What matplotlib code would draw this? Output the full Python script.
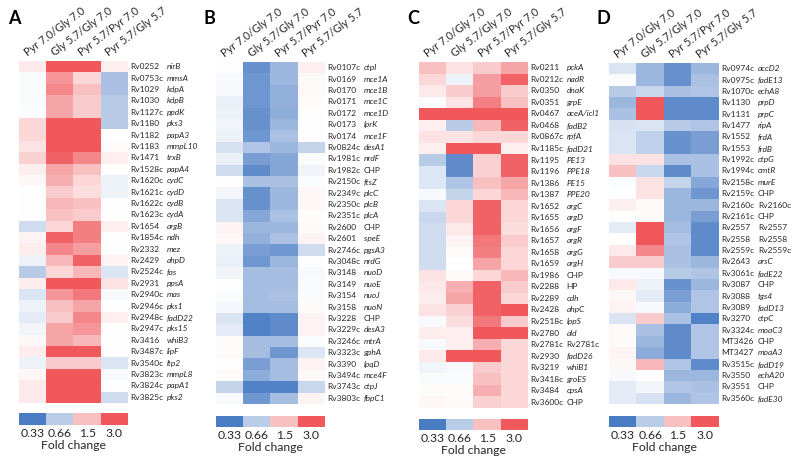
import numpy as np
import matplotlib
matplotlib.use("Agg")
import matplotlib.pyplot as plt
from matplotlib.colors import LinearSegmentedColormap, LogNorm

plt.rcParams['font.family'] = ['Lato', 'DejaVu Sans']

# column headers and legend
conditions = ["Pyr 7.0/Gly 7.0", "Gly 5.7/Gly 7.0", "Pyr 5.7/Pyr 7.0", "Pyr 5.7/Gly 5.7"]
legend_ticks = [0.33, 0.66, 1.5, 3.0]

# panel A
a_ids = ["Rv0252", "Rv0753c", "Rv1029", "Rv1030", "Rv1127c", "Rv1180", "Rv1182", "Rv1183",
         "Rv1471", "Rv1528c", "Rv1620c", "Rv1621c", "Rv1622c", "Rv1623c", "Rv1654", "Rv1854c",
         "Rv2332", "Rv2429", "Rv2524c", "Rv2931", "Rv2940c", "Rv2946c", "Rv2948c", "Rv2947c",
         "Rv3416", "Rv3487c", "Rv3540c", "Rv3823c", "Rv3824c", "Rv3825c"]
a_genes = ["nirB", "mmsA", "kdpA", "kdpB", "ppdK", "pks3", "papA3", "mmpL10", "trxB", "papA4",
           "cydC", "cydD", "cydB", "cydA", "argB", "ndh", "mez", "ahpD", "fas", "ppsA", "mas",
           "pks1", "fadD22", "pks15", "whiB3", "lipF", "ltp2", "mmpL8", "papA1", "pks2"]
a_fold = [[1.15, 3.0, 3.0, 1.1], [0.97, 2.0, 1.3, 0.6], [0.97, 2.2, 1.5, 0.6],
          [0.97, 1.8, 1.4, 0.65], [0.98, 1.8, 1.4, 0.65], [1.3, 3.2, 3.2, 0.65],
          [1.3, 3.2, 3.2, 1.0], [1.2, 3.2, 3.2, 1.02], [1.35, 2.8, 2.2, 1.1],
          [1.1, 1.8, 1.5, 1.0], [1.05, 1.7, 1.3, 0.9], [1.0, 1.4, 1.25, 0.9],
          [1.0, 1.6, 1.5, 1.0], [1.0, 1.5, 1.4, 1.0], [0.75, 1.3, 2.3, 1.1],
          [1.08, 2.8, 2.3, 1.0], [1.12, 2.2, 1.9, 1.0], [0.9, 1.6, 2.8, 1.08],
          [0.65, 1.3, 1.6, 0.8], [1.12, 3.0, 3.0, 1.2], [0.8, 2.0, 2.4, 0.95],
          [0.9, 1.5, 1.8, 1.0], [0.85, 1.4, 2.2, 1.1], [0.92, 1.8, 2.0, 1.0],
          [1.05, 1.8, 1.6, 1.0], [1.12, 3.0, 3.0, 1.0], [0.9, 1.4, 1.4, 0.8],
          [1.05, 3.2, 3.2, 0.95], [1.15, 3.2, 3.2, 1.0], [1.15, 3.2, 3.2, 0.75]]

# panel B
b_ids = ["Rv0107c", "Rv0169", "Rv0170", "Rv0171", "Rv0172", "Rv0173", "Rv0174", "Rv0824c",
         "Rv1981c", "Rv1982c", "Rv2150c", "Rv2349c", "Rv2350c", "Rv2351c", "Rv2600", "Rv2601",
         "Rv2746c", "Rv3048c", "Rv3148", "Rv3149", "Rv3154", "Rv3158", "Rv3228", "Rv3229c",
         "Rv3246c", "Rv3323c", "Rv3390", "Rv3494c", "Rv3743c", "Rv3803c"]
b_genes = ["ctpI", "mce1A", "mce1B", "mce1C", "mce1D", "lprK", "mce1F", "desA1", "nrdF", "CHP",
           "ftsZ", "plcC", "plcB", "plcA", "CHP", "speE", "pgsA3", "nrdG", "nuoD", "nuoE",
           "nuoJ", "nuoN", "CHP", "desA3", "mtrA", "gphA", "lpqD", "mce4F", "ctpJ", "fbpC1"]
b_fold = [[1.0, 0.4, 0.55, 1.1], [0.95, 0.42, 0.55, 1.04], [0.95, 0.42, 0.52, 1.04],
          [0.88, 0.42, 0.52, 1.02], [0.9, 0.4, 0.5, 1.0], [0.93, 0.4, 0.55, 1.0],
          [0.9, 0.42, 0.6, 1.0], [0.78, 0.62, 0.55, 0.7], [0.88, 0.45, 0.48, 0.97],
          [0.75, 0.38, 0.48, 0.92], [1.0, 0.6, 0.6, 0.98], [0.93, 0.4, 0.55, 1.05],
          [0.8, 0.4, 0.55, 1.05], [0.8, 0.48, 0.6, 1.02], [1.08, 0.55, 0.55, 1.03],
          [1.05, 0.52, 0.6, 1.08], [0.9, 0.45, 0.42, 0.75], [0.88, 0.42, 0.55, 1.0],
          [0.92, 0.58, 0.58, 0.95], [1.0, 0.58, 0.58, 0.97], [0.97, 0.58, 0.6, 0.97],
          [0.94, 0.58, 0.58, 1.03], [0.8, 0.35, 0.38, 1.08], [0.85, 0.35, 0.38, 1.08],
          [1.02, 0.58, 0.58, 0.98], [1.02, 0.58, 0.42, 0.82], [1.0, 0.45, 0.58, 1.08],
          [1.02, 0.5, 0.58, 1.04], [0.7, 0.35, 0.35, 0.72], [0.95, 0.42, 0.58, 1.08]]

# panel C
c_ids = ["Rv0211", "Rv0212c", "Rv0350", "Rv0351", "Rv0467", "Rv0468", "Rv0867c", "Rv1185c",
         "Rv1195", "Rv1196", "Rv1386", "Rv1387", "Rv1652", "Rv1655", "Rv1656", "Rv1657",
         "Rv1658", "Rv1659", "Rv1986", "Rv2288", "Rv2289", "Rv2428", "Rv2518c", "Rv2780",
         "Rv2781c", "Rv2930", "Rv3219", "Rv3418c", "Rv3484", "Rv3600c"]
c_genes = ["pckA", "nadR", "dnaK", "grpE", "aceA/icl1", "fadB2", "rpfA", "fadD21", "PE13",
           "PPE18", "PE15", "PPE20", "argC", "argD", "argF", "argR", "argG", "argH", "CHP",
           "HP", "cdh", "ahpC", "lppS", "ald", "Rv2781c", "fadD26", "whiB1", "groES", "cpsA",
           "CHP"]
c_fold = [[1.5, 1.2, 1.4, 1.8], [1.3, 0.9, 1.9, 2.8], [1.15, 1.4, 1.9, 1.4],
          [0.97, 1.2, 2.3, 1.5], [3.2, 3.2, 3.2, 3.2], [1.1, 0.65, 1.6, 2.8],
          [1.2, 1.2, 1.3, 1.3], [1.1, 3.0, 3.0, 1.1], [0.65, 0.38, 1.35, 2.8],
          [0.82, 0.38, 1.35, 2.8], [0.82, 0.62, 1.5, 1.8], [0.95, 0.7, 1.3, 1.6],
          [0.8, 1.3, 2.8, 1.3], [0.72, 1.3, 2.8, 1.3], [0.75, 1.15, 2.8, 1.25],
          [0.75, 1.08, 2.4, 1.4], [0.75, 1.02, 2.3, 1.3], [0.75, 1.0, 1.8, 1.3],
          [1.2, 1.03, 1.3, 1.6], [1.15, 1.7, 2.8, 1.4], [1.12, 1.8, 2.8, 1.3],
          [1.2, 1.35, 2.8, 3.0], [0.95, 1.25, 2.4, 1.4], [1.12, 1.1, 3.0, 3.0],
          [0.95, 1.1, 1.7, 1.3], [1.15, 3.0, 3.0, 1.3], [0.92, 0.95, 1.4, 1.3],
          [0.97, 0.97, 1.5, 1.3], [1.02, 1.02, 1.7, 1.3], [1.05, 1.03, 1.35, 1.3]]

# panel D
d_ids = ["Rv0974c", "Rv0975c", "Rv1070c", "Rv1130", "Rv1131", "Rv1477", "Rv1552", "Rv1553",
         "Rv1992c", "Rv1994c", "Rv2158c", "Rv2159c", "Rv2160c", "Rv2161c", "Rv2557", "Rv2558",
         "Rv2559c", "Rv2643", "Rv3061c", "Rv3087", "Rv3088", "Rv3089", "Rv3270", "Rv3324c",
         "MT3426", "MT3427", "Rv3515c", "Rv3550", "Rv3551", "Rv3560c"]
d_genes = ["accD2", "fadE13", "echA8", "prpD", "prpC", "ripA", "frdA", "frdB", "ctpG", "cmtR",
           "murE", "CHP", "Rv2160c", "CHP", "Rv2557", "Rv2558", "Rv2559c", "arsC", "fadE22",
           "CHP", "tgs4", "fadD13", "ctpC", "moaC3", "CHP", "moaA3", "fadD19", "echA20", "CHP",
           "fadE30"]
d_fold = [[0.8, 0.55, 0.4, 0.55], [0.97, 0.55, 0.4, 0.6], [0.65, 0.72, 0.6, 0.62],
          [0.55, 3.2, 0.38, 0.38], [0.6, 3.2, 0.38, 0.38], [0.78, 0.8, 0.65, 0.62],
          [0.8, 0.68, 0.4, 0.45], [0.8, 0.68, 0.4, 0.45], [1.2, 1.2, 0.6, 0.6],
          [1.5, 0.72, 0.38, 0.6], [0.98, 1.2, 0.7, 0.48], [1.0, 1.2, 0.55, 0.42],
          [1.1, 1.03, 0.55, 0.55], [1.0, 1.03, 0.55, 0.45], [0.85, 3.0, 0.58, 0.38],
          [1.0, 3.0, 0.62, 0.38], [1.15, 2.2, 0.6, 0.38], [1.4, 1.4, 0.6, 0.55],
          [0.95, 0.95, 0.65, 0.62], [1.15, 0.9, 0.4, 0.55], [1.05, 0.85, 0.45, 0.62],
          [1.08, 0.95, 0.5, 0.62], [0.8, 1.4, 0.6, 0.35], [1.04, 0.6, 0.38, 0.62],
          [1.04, 0.55, 0.38, 0.62], [1.08, 0.5, 0.38, 0.62], [1.05, 1.6, 0.62, 0.38],
          [0.95, 1.0, 0.55, 0.55], [0.85, 0.93, 0.62, 0.6], [0.85, 0.78, 0.55, 0.62]]

W, H = 800, 466
cmap = LinearSegmentedColormap.from_list("fc", ["#4a7cc4", "#ffffff", "#f0585c"])
norm = LogNorm(vmin=1 / 3, vmax=3)
txt = "#262626"


def box(l, r, t, b):
    # pixel box -> figure fraction
    return [l / W, 1 - b / H, (r - l) / W, (b - t) / H]


def draw_panel(fig, letter, ids, genes, fold, heat, bar, letter_xy):
    ax = fig.add_axes(box(*heat))
    ax.imshow(np.array(fold), cmap=cmap, norm=norm, aspect='auto', interpolation='nearest')
    ax.set_xlim(-0.5, 3.5)
    ax.set_ylim(len(ids) - 0.5, -0.5)
    ax.axis('off')
    tr = ax.get_yaxis_transform()
    for i, (rv, g) in enumerate(zip(ids, genes)):
        ax.text(1.018, i, rv, transform=tr, fontsize=6.0, va='center', ha='left', color=txt)
        style = 'normal' if (g in ("CHP", "HP") or g.startswith("Rv")) else 'italic'
        ax.text(1.355, i, g, transform=tr, fontsize=6.0, va='center', ha='left',
                style=style, color=txt)
    for j, c in enumerate(conditions):
        ax.text(j - 0.15, -0.8, c, rotation=37, rotation_mode='anchor', ha='left',
                va='bottom', fontsize=7.8, color=txt)
    fig.text(letter_xy[0] / W, 1 - letter_xy[1] / H, letter, fontsize=13,
             fontweight='bold', ha='center', va='center', color='black')

    cax = fig.add_axes(box(*bar))
    cax.imshow(np.array([legend_ticks]), cmap=cmap, norm=norm, aspect='auto')
    cax.set_xticks(range(len(legend_ticks)))
    cax.set_xticklabels([str(t) for t in legend_ticks], fontsize=8.8, color=txt)
    cax.tick_params(length=0, pad=2)
    cax.set_yticks([])
    for s in cax.spines.values():
        s.set_visible(False)
    cax.set_xlabel("Fold change", fontsize=8.8, color=txt, labelpad=1)


fig = plt.figure(figsize=(8, 4.66), dpi=100)
draw_panel(fig, "A", a_ids, a_genes, a_fold, (19, 128, 61, 403), (19, 128, 413, 425), (14, 18))
draw_panel(fig, "B", b_ids, b_genes, b_fold, (216, 325, 62, 404), (216, 325, 416, 427), (209, 19))
draw_panel(fig, "C", c_ids, c_genes, c_fold, (419, 528, 62, 408), (419, 528, 419, 430), (413, 19))
draw_panel(fig, "D", d_ids, d_genes, d_fold, (609, 719, 63, 404), (609, 719, 416, 427), (603, 19))

plt.savefig("out.png", dpi=100)
